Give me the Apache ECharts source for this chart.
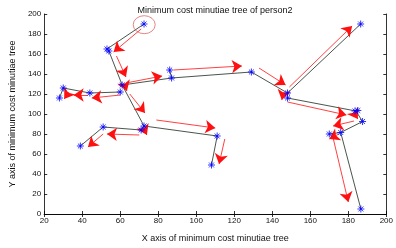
<!DOCTYPE html>
<html><head><meta charset="utf-8">
<script src="https://cdn.jsdelivr.net/npm/echarts@6/dist/echarts.min.js"></script>
<style>html,body{margin:0;padding:0;background:#fff}#c{width:396px;height:248px}</style>
</head><body><div id="c"></div>
<script>
// Tick labels
const xTicks = [20,40,60,80,100,120,140,160,180,200];
const yTicks = [0,20,40,60,80,100,120,140,160,180,200];

// Tree branches (minutiae nodes connected by the minimum cost tree)
const branchTop    = [[72.5,190],[53,165]];
const branchTrunk  = [[54,163],[61,129],[72.5,88]];
const branchMid    = [[61,129],[87,136],[129,142],[148,121],[186.5,190]];
const branchStub   = [[86,144],[87,136]];
const branchRight  = [[148,116],[184,103],[187.5,92.5],[176,81.5],[170,80]];
const branchDown   = [[176,81.5],[186.6,5]];
const branchLeft   = [[60,122],[44,121],[30,126],[28,116]];
const branchLow    = [[72.5,88],[71,84],[51,87],[39,68]];
const branchLowR   = [[72.5,88],[111,78],[108,49]];

// Minutiae node points (blue stars)
const nodes = [[72.5,190],[53,165],[54,163],[61,129],[60,122],[44,121],[30,126],[28,116],
  [86,144],[87,136],[129,142],[148,121],[148,116],[186.5,190],[183.5,103],[185,103.5],
  [187.5,92.5],[176,81.5],[170,80],[186.6,5],[72.5,88],[71,84],[51,87],[39,68],[111,78],[108,49]];

// Direction arrows (tail -> head)
const arrowTails = [[71,185],[58,158],[62,131],[63,131],[88,144],[133,146],[149,127],[146,122],[148,112],
  [183,101],[183,93],[175,80],[172,76],[60,119],[43,119],[33,122],[65,120],[72,87],[70,79],[51,80],[79,94],[115,75]];
const arrowHeads = [[56.5,162],[63,137],[63.5,123],[82,138],[124,148],[147,129],[182,188],[145,114],[179,99],
  [185,95],[172,88],[170,75],[180,12],[45,116],[35.5,119],[30.5,115],[73,101],[74,79],[53,80],[43,67],[110,86],[112,50]];

// Highlighted root node
const rootCircle = [[72.6,189.3]];

const font = '"Liberation Sans", Arial, sans-serif';
const branches = [branchTop,branchTrunk,branchMid,branchStub,branchRight,branchDown,branchLeft,branchLow,branchLowR];
const series = [];
branches.forEach(b => series.push({
  type:'line', data:b, symbol:'none', silent:true, animation:false,
  lineStyle:{color:'#1a2a20', width:0.8}, z:2
}));
series.push({
  type:'lines', coordinateSystem:'cartesian2d', animation:false, silent:true,
  symbol:['none','arrow'], symbolSize:10,
  lineStyle:{color:'#ff1010', width:0.8, opacity:1},
  data: arrowTails.map((t,i)=>({coords:[t, arrowHeads[i]]})), z:3
});
series.push({
  type:'scatter', data:nodes, animation:false, silent:true,
  symbol:'path://M5,0L5,10M0,5L10,5M1.5,1.5L8.5,8.5M1.5,8.5L8.5,1.5', symbolSize:7,
  itemStyle:{color:'none', borderColor:'#0000ff', borderWidth:1}, z:4
});
series.push({
  type:'scatter', data:rootCircle, animation:false, silent:true,
  symbol:'circle', symbolSize:[22,18],
  itemStyle:{color:'rgba(0,0,0,0)', borderColor:'#d84040', borderWidth:0.8}, z:4
});

const axisCommon = {
  axisLine:{show:true, lineStyle:{color:'#000', width:0.8}},
  axisTick:{show:true, inside:true, length:3, lineStyle:{color:'#000', width:0.8}},
  splitLine:{show:false}
};
const chart = echarts.init(document.getElementById('c'), null, {renderer:'canvas'});
chart.setOption({
  animation:false,
  title:{text:'Minimum cost minutiae tree of person2', left:210, top:1, textAlign:'center',
    textStyle:{fontFamily:font, fontSize:9, fontWeight:'normal', color:'#111'}},
  grid:{left:32.3, right:8.3, top:14, bottom:23.7},
  xAxis:[
    Object.assign({type:'value', min:20, max:200, interval:20, position:'bottom',
      name:'X axis of minimum cost minutiae tree', nameLocation:'middle', nameGap:20,
      nameTextStyle:{fontFamily:font, fontSize:9, color:'#111'},
      axisLabel:{fontFamily:font, fontSize:8, color:'#111', margin:3,
        formatter:v => xTicks.includes(v) ? String(v) : ''}}, axisCommon),
    Object.assign({type:'value', min:20, max:200, interval:20, position:'top', axisLabel:{show:false}}, axisCommon)
  ],
  yAxis:[
    Object.assign({type:'value', min:0, max:200, interval:20, position:'left',
      name:'Y axis of minimum cost minutiae tree', nameLocation:'middle', nameGap:23, nameRotate:90,
      nameTextStyle:{fontFamily:font, fontSize:9, color:'#111'},
      axisLabel:{fontFamily:font, fontSize:8, color:'#111', margin:3,
        formatter:v => yTicks.includes(v) ? String(v) : ''}}, axisCommon),
    Object.assign({type:'value', min:0, max:200, interval:20, position:'right', axisLabel:{show:false}}, axisCommon)
  ],
  series: series
});
</script></body></html>
